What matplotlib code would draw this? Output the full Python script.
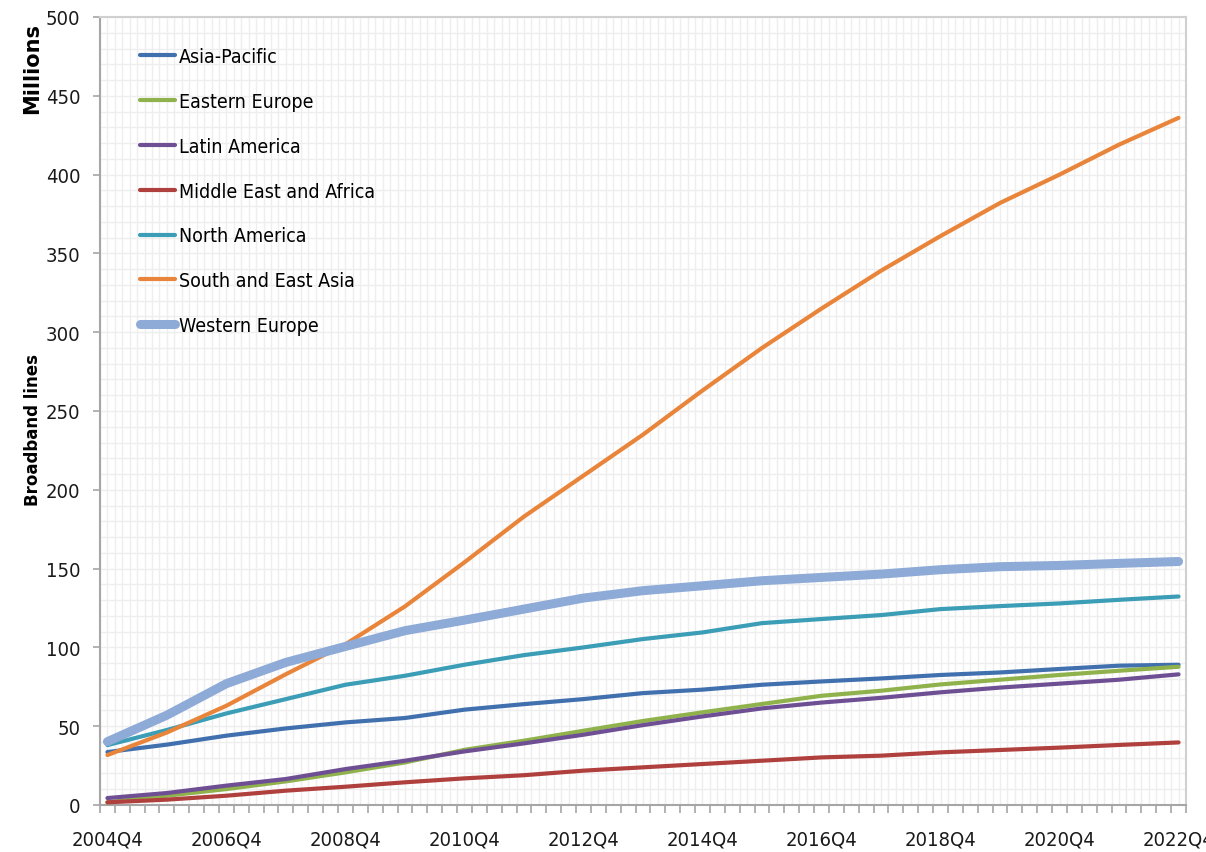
import matplotlib
matplotlib.use('Agg')
import matplotlib.pyplot as plt
import numpy as np

# category axis: every quarter from 2004Q4 to 2022Q4
quarters = [f"{y}Q{q}" for y in range(2004, 2023) for q in range(1, 5)]
quarters = quarters[quarters.index("2004Q4"):]
# values read at the Q4 of each year (millions of lines)
years = list(range(2004, 2023))

asia_pacific = [33.6, 38.3, 44.0, 48.6, 52.4, 55.2, 60.5, 64.0, 67.2, 71.0,
                73.2, 76.3, 78.4, 80.3, 82.5, 84.1, 86.3, 88.4, 89.0]
eastern_europe = [1.7, 5.9, 10.1, 15.0, 20.7, 27.0, 35.0, 40.8, 47.1, 53.3,
                  58.8, 64.1, 69.3, 72.5, 76.5, 79.5, 82.5, 85.2, 87.7]
latin_america = [4.4, 7.6, 12.3, 16.5, 22.8, 28.1, 34.0, 39.1, 44.6, 50.7,
                 56.2, 61.3, 65.0, 68.0, 71.5, 74.5, 77.0, 79.5, 82.9]
middle_east_africa = [1.7, 3.4, 5.9, 9.1, 11.6, 14.4, 16.9, 18.9, 21.8, 23.9,
                      26.0, 28.1, 30.2, 31.3, 33.4, 34.9, 36.4, 38.1, 39.7]
north_america = [38.0, 47.6, 58.1, 67.2, 76.3, 82.0, 89.0, 95.1, 100.0, 105.3,
                 109.5, 115.4, 118.0, 120.5, 124.3, 126.2, 127.9, 130.2, 132.3]
south_east_asia = [31.7, 46.0, 63.0, 83.0, 102.0, 126.0, 154.0, 183.0, 209.0, 235.0,
                   263.0, 290.0, 315.0, 339.0, 361.0, 382.0, 400.0, 419.0, 436.0]
western_europe = [40.2, 57.0, 77.0, 90.5, 100.6, 110.6, 117.3, 124.3, 131.3, 136.0,
                  139.1, 142.3, 144.4, 146.5, 149.3, 151.2, 152.0, 153.3, 154.5]

series = [
    ("Asia-Pacific", asia_pacific, '#4170ae', 3.0),
    ("Eastern Europe", eastern_europe, '#8fb24c', 3.0),
    ("Latin America", latin_america, '#6f4f94', 3.0),
    ("Middle East and Africa", middle_east_africa, '#b0403d', 3.0),
    ("North America", north_america, '#3b9db6', 3.0),
    ("South and East Asia", south_east_asia, '#e9853a', 3.0),
    ("Western Europe", western_europe, '#8eaad6', 6.5),
]

# condensed face to get close to the narrow Excel labels
plt.rcParams['font.family'] = ['DejaVu Sans']
plt.rcParams['font.stretch'] = 'condensed'

fig = plt.figure(figsize=(12.06, 8.53), dpi=100)
ax = fig.add_axes([0.0829, 0.0551, 0.9005, 0.9238])

xpos = [quarters.index(f"{y}Q4") for y in years]
for i, (name, vals, color, lw) in enumerate(series):
    ax.plot(xpos, vals, color=color, lw=lw, label=name,
            solid_capstyle='round', solid_joinstyle='round', zorder=3 + i)

ax.set_xlim(-0.5, len(quarters) - 0.5)
ax.set_ylim(0, 500)

# x: tick marks between categories, labels every 8 quarters
ax.set_xticks(np.arange(-0.5, len(quarters), 1.0))
ax.set_xticklabels([])
ax.set_xticks(range(len(quarters)), minor=True)
ax.set_xticklabels([q if i % 8 == 0 else '' for i, q in enumerate(quarters)], minor=True)
ax.tick_params(axis='x', which='major', length=6, width=1.2, color='#a6a6a6')
ax.tick_params(axis='x', which='minor', length=0, pad=18, labelsize=14.5, labelcolor='#1a1a1a')

ax.set_yticks(range(0, 501, 50))
ax.set_yticks(range(0, 501, 10), minor=True)
ax.tick_params(axis='y', which='major', length=5, width=1.2, color='#a6a6a6',
               pad=9, labelsize=14.5, labelcolor='#1a1a1a')
ax.tick_params(axis='y', which='minor', length=0)

ax.grid(True, which='both', color='#eeeeee', lw=1.0, zorder=0)
ax.set_axisbelow(True)

for side in ['left', 'bottom']:
    ax.spines[side].set_color('#a6a6a6')
    ax.spines[side].set_linewidth(1.5)
for side in ['top', 'right']:
    ax.spines[side].set_color('#d0d0d0')
    ax.spines[side].set_linewidth(1.5)

fig.text(0.027, 1 - 68 / 853, 'Millions', rotation=90, ha='center', va='center',
         fontsize=15, fontweight='bold', stretch='normal')
fig.text(0.027, 1 - 430 / 853, 'Broadband lines', rotation=90, ha='center', va='center',
         fontsize=12, fontweight='bold', stretch='normal')

ax.legend(loc='upper left', bbox_to_anchor=(0.0368, 0.962), frameon=False,
          fontsize=14, handlelength=1.8, handletextpad=0.2, labelspacing=1.33,
          borderpad=0, borderaxespad=0)

fig.savefig('out.png', dpi=100)
